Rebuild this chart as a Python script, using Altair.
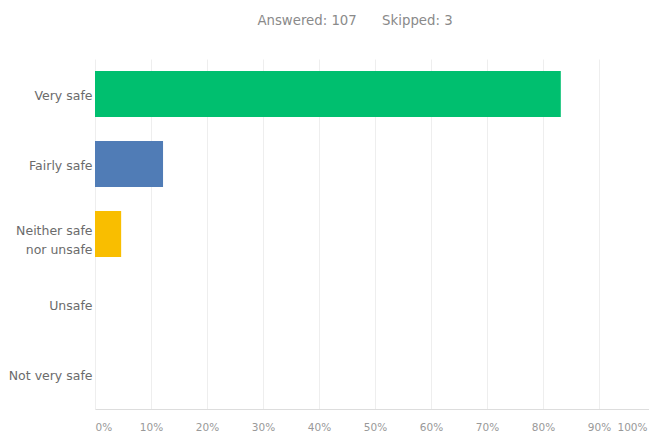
import altair as alt
import pandas as pd

categories = ["Very safe", "Fairly safe", "Neither safe nor unsafe", "Unsafe", "Not very safe"]
values = [83.18, 12.15, 4.67, 0.0, 0.0]
colors = ["#00BF6F", "#507CB6", "#F9BE00", "#6BC8CD", "#FF8B4F"]
x_ticks = [0, 10, 20, 30, 40, 50, 60, 70, 80, 90, 100]

df = pd.DataFrame({"answer": categories, "pct": values})

FONT = "DejaVu Sans"
NB = "\u00a0"

chart = alt.Chart(df).mark_bar().encode(
    y=alt.Y(
        "answer:N",
        sort=categories,
        scale=alt.Scale(paddingInner=0.34, paddingOuter=0.17),
        axis=alt.Axis(
            title=None, ticks=False, domain=False, grid=False,
            labelPadding=3, labelFontSize=12.5, labelColor="#6b6b6b", labelFont=FONT,
            labelExpr="datum.label == 'Neither safe nor unsafe' ? ['Neither safe', 'nor unsafe'] : datum.label",
            labelOffset={"expr": "datum.value == 'Neither safe nor unsafe' ? -3 : 2"},
            labelLineHeight=19, labelLimit=200,
        ),
    ),
    x=alt.X(
        "pct:Q",
        scale=alt.Scale(domain=[0, 100], nice=False, range=[0, 560]),
        axis=alt.Axis(
            title=None, values=x_ticks, ticks=False, labelExpr="datum.value + '%'",
            labelAlign={"expr": "datum.value == 0 ? 'left' : (datum.value == 100 ? 'right' : 'center')"},
            labelOffset={"expr": "datum.value == 100 ? -8 : 0"},
            labelPadding=13, labelFontSize=10.5, labelColor="#999999", labelFont=FONT,
            grid=True, gridColor="#eeeeee", domainColor="#dddddd",
        ),
    ),
    color=alt.Color("answer:N", scale=alt.Scale(domain=categories, range=colors), legend=None),
).properties(
    width=554,
    height=350,
    title=alt.TitleParams(
        "Answered:" + NB + "107" + NB * 6 + "Skipped:" + NB + "3",
        fontSize=13.3, fontWeight="normal", color="#8a8a8a", font=FONT,
        anchor="middle", dx=-17, offset=32,
    ),
    autosize=alt.AutoSizeParams(type="none"),
    padding={"left": 87, "top": 51, "right": 0, "bottom": 24},
).configure_view(stroke=None)

chart.save("out.html", embed_options={"renderer": "svg", "actions": False})
